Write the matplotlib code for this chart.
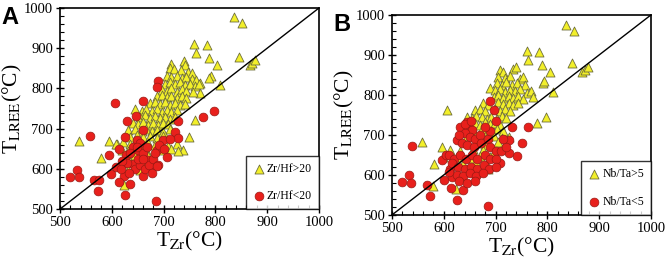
import numpy as np
import matplotlib
matplotlib.use("Agg")
from matplotlib import pyplot as plt
from matplotlib.ticker import MultipleLocator

plt.rcParams['font.family'] = ['Liberation Serif', 'DejaVu Serif']
plt.rcParams['mathtext.fontset'] = 'stix'

# panel A: Zr/Hf > 20 (triangles), Zr/Hf < 20 (circles)
a_high = [
    (835, 977), (852, 962), (845, 877), (866, 858), (870, 864), (877, 871),
    (759, 911), (783, 909), (762, 889), (787, 875), (804, 858), (809, 809),
    (791, 831), (787, 827), (536, 670), (595, 670), (579, 628), (611, 662),
    (623, 560), (760, 722), (749, 680), (738, 647), (771, 788), (770, 814),
    (715, 861), (739, 869), (742, 858),
    (712, 850), (720, 848), (733, 845), (748, 842), (755, 838),
    (706, 830), (715, 828), (725, 832), (735, 826), (744, 829), (754, 824), (763, 822),
    (703, 812), (712, 815), (722, 810), (732, 816), (741, 808), (751, 812), (760, 806), (769, 810),
    (696, 797), (706, 794), (715, 800), (725, 792), (735, 798), (744, 794), (757, 790),
    (687, 780), (696, 784), (706, 778), (715, 782), (725, 776), (735, 780), (744, 777),
    (674, 763), (683, 767), (693, 761), (703, 765), (712, 760), (722, 764), (732, 758), (741, 762),
    (645, 748), (658, 745), (667, 750), (677, 744), (687, 748), (696, 742), (706, 747), (715, 741), (725, 746),
    (654, 730), (664, 733), (674, 727), (683, 731), (693, 726), (703, 730), (712, 724), (722, 728),
    (641, 714), (651, 712), (661, 716), (670, 710), (680, 714), (690, 708), (699, 713), (709, 711),
    (632, 697), (645, 700), (658, 695), (667, 699), (677, 693), (687, 697), (699, 692), (712, 698),
    (635, 680), (648, 684), (661, 678), (674, 682), (687, 676), (699, 681),
    (609, 663), (622, 666), (635, 661), (645, 665), (658, 660), (670, 664), (683, 659), (696, 663),
    (709, 658), (725, 662),
    (619, 647), (632, 645), (645, 650), (654, 644), (667, 648), (699, 646), (715, 650), (728, 644),
    (632, 630), (645, 634), (658, 628), (670, 632),
    (622, 614), (635, 617), (648, 612), (667, 616), (632, 596), (654, 598),
]
a_low = [
    (519, 580), (532, 597), (537, 579), (557, 682), (566, 572), (573, 546),
    (576, 572), (595, 634), (598, 587), (606, 763), (690, 819), (687, 803),
    (661, 769), (647, 732), (629, 720), (625, 680), (614, 649), (627, 634),
    (609, 605), (623, 582), (614, 568), (636, 562), (625, 535), (685, 521),
    (660, 582), (677, 605), (670, 622), (651, 647), (687, 647), (706, 629),
    (648, 672), (661, 697), (699, 672), (722, 692), (728, 719), (728, 676),
    (777, 728), (797, 745), (640, 612), (645, 600), (655, 610), (650, 625),
    (660, 640), (665, 600), (672, 610), (680, 625), (683, 640), (690, 610),
    (692, 660), (700, 650), (640, 655), (635, 640),
    (630, 615), (655, 665), (668, 655),
    (620, 620), (618, 600), (633, 590), (648, 655), (660, 625), (678, 590),
    (688, 608), (712, 675),
]

# panel B: Nb/Ta > 5 (triangles), Nb/Ta < 5 (circles)
b_high = [
    (835, 975), (852, 960), (847, 879), (866, 858), (872, 863), (879, 871),
    (760, 911), (783, 908), (762, 888), (789, 875), (805, 858), (811, 808),
    (791, 831), (794, 835), (607, 763), (779, 729), (798, 746), (558, 683),
    (597, 671), (581, 627), (579, 573), (623, 565),
    (708, 862), (715, 858), (734, 866), (739, 870),
    (705, 846), (718, 842), (728, 848), (747, 840), (753, 844),
    (702, 830), (712, 826), (721, 833), (731, 824), (741, 829), (757, 826),
    (689, 817), (699, 812), (708, 816), (718, 808), (728, 813), (737, 809), (747, 814),
    (761, 806), (769, 810),
    (696, 796), (705, 800), (715, 792), (725, 797), (734, 793), (744, 798), (753, 790), (773, 796),
    (676, 780), (686, 776), (705, 782), (715, 777), (725, 781), (734, 775), (744, 779),
    (660, 762), (670, 766), (679, 760), (699, 764), (708, 759), (718, 766), (728, 761),
    (644, 746), (654, 742), (663, 748), (673, 744), (683, 740), (692, 746), (702, 741),
    (712, 747), (721, 743),
    (660, 730), (670, 726), (679, 732), (689, 727), (699, 731), (708, 725),
    (657, 713), (673, 716), (686, 710), (702, 714), (715, 709),
    (644, 697), (667, 700), (683, 694), (696, 698), (712, 692), (725, 696),
    (663, 680), (679, 676), (705, 682), (718, 677),
    (612, 663), (631, 660), (657, 666), (676, 662), (696, 658), (715, 664),
    (599, 646), (625, 645), (650, 643), (670, 648), (689, 645),
    (638, 628), (663, 632), (683, 626), (644, 612), (663, 608), (686, 614),
]
b_low = [
    (539, 672), (520, 583), (532, 600), (537, 580), (567, 575), (573, 548),
    (596, 637), (600, 588), (605, 651), (612, 615), (615, 595), (614, 568),
    (690, 785), (696, 763), (763, 721), (750, 681), (741, 648), (731, 721),
    (725, 688), (725, 654), (708, 629), (686, 523), (625, 537), (638, 563),
    (631, 721), (644, 733), (647, 720), (655, 712), (640, 705), (625, 688),
    (630, 700), (650, 695), (660, 690), (670, 700), (635, 680), (645, 675),
    (658, 670), (672, 680), (685, 690), (690, 670), (700, 660), (610, 650),
    (620, 640), (632, 650), (642, 640), (655, 650), (665, 640), (680, 650),
    (690, 640), (700, 640), (710, 660), (720, 670), (615, 630), (628, 620),
    (640, 615), (652, 620), (665, 615), (678, 625), (688, 615), (700, 620),
    (625, 600), (638, 598), (650, 605), (662, 598), (675, 605), (630, 585),
    (645, 580), (660, 585), (610, 607), (715, 690), (690, 710), (700, 735),
    (680, 720), (640, 728), (652, 736),
]

panels = [
    ('A', a_high, a_low, 'Zr/Hf>20', 'Zr/Hf<20', [0.0894, 0.214, 0.386, 0.756]),
    ('B', b_high, b_low, 'Nb/Ta>5', 'Nb/Ta<5', [0.5842, 0.192, 0.386, 0.752]),
]

fig = plt.figure(figsize=(6.71, 2.66), dpi=100)

for letter, high, low, lab_hi, lab_lo, rect in panels:
    ax = fig.add_axes(rect)
    hx, hy = np.array(high).T
    lx, ly = np.array(low).T
    ax.scatter(hx, hy, marker='^', s=42, c='#f2ef2a', edgecolors='#6e6e3a',
               linewidths=0.6, zorder=2, label=lab_hi)
    ax.scatter(lx, ly, marker='o', s=40, c='#e8201c', edgecolors='#9a1a14',
               linewidths=0.5, zorder=3, label=lab_lo)
    ax.plot([500, 1000], [500, 1000], color='black', lw=1.0, zorder=4)

    ax.set_xlim(500, 1000)
    ax.set_ylim(500, 1000)
    ax.xaxis.set_major_locator(MultipleLocator(100))
    ax.yaxis.set_major_locator(MultipleLocator(100))
    ax.xaxis.set_minor_locator(MultipleLocator(20))
    ax.yaxis.set_minor_locator(MultipleLocator(20))
    ax.tick_params(which='major', direction='inout', length=6, width=1.0,
                   labelsize=10.5, pad=2)
    ax.tick_params(which='minor', direction='in', length=3, width=0.8)
    for sp in ax.spines.values():
        sp.set_linewidth(1.2)

    ax.set_xlabel(r'T$_{\mathrm{Zr}}$(°C)', fontsize=15.5, labelpad=1)
    ax.set_ylabel(r'T$_{\mathrm{LREE}}$(°C)', fontsize=15.5, labelpad=0)

    leg = ax.legend(loc='lower right', fontsize=8.5, frameon=True, fancybox=False,
                    borderaxespad=0, handletextpad=0.1, labelspacing=1.3,
                    borderpad=0.6, handlelength=1.1)
    leg.get_frame().set_edgecolor('black')
    leg.get_frame().set_linewidth(1.0)

    fig.text(rect[0] - 0.088, rect[1] + rect[3] - 0.06, letter, fontsize=17,
             fontweight='bold', family=['Liberation Sans', 'DejaVu Sans'])

fig.savefig('out.png', dpi=100)
